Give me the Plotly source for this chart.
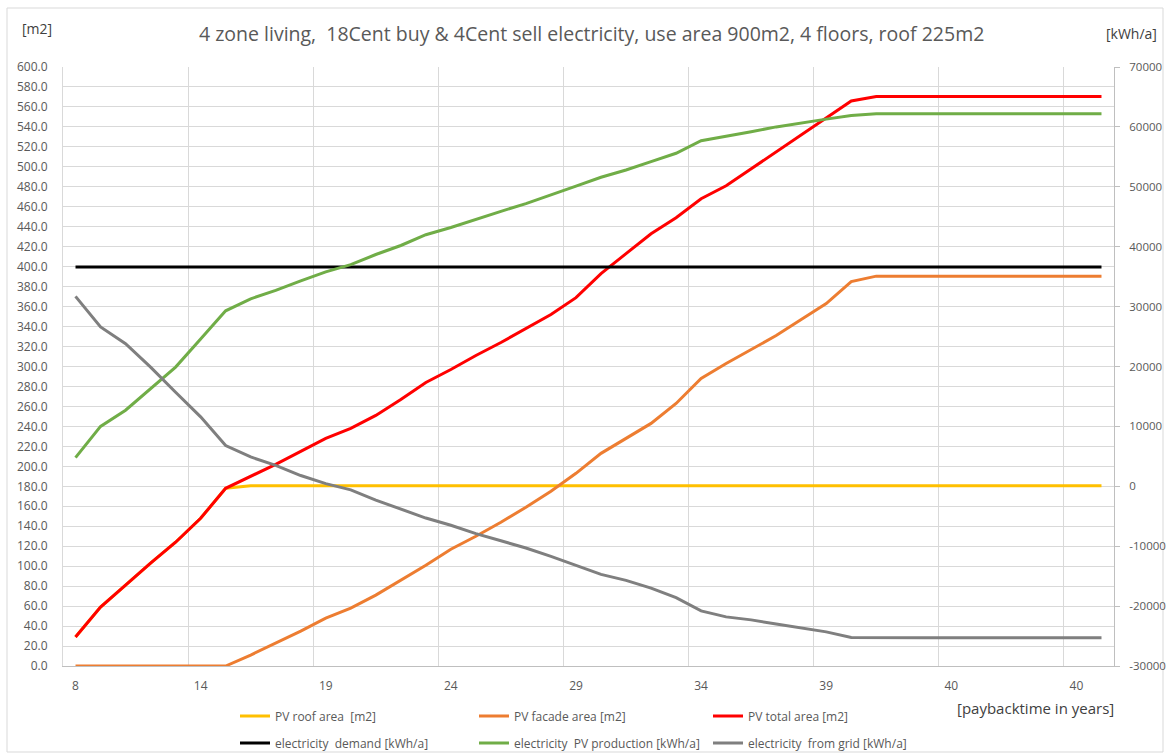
import plotly.graph_objects as go

# ---------------- data ----------------
payback_years = [8, 9, 10, 11, 13, 14, 15, 16, 17, 18, 19, 20, 21, 22, 23, 24, 25, 26, 27, 28,
                 29, 30, 31, 32, 33, 34, 35, 36, 37, 38, 39, 40, 40, 40, 40, 40, 40, 40, 40, 40,
                 40, 40]

pv_roof_area = [29, 59, 81, 103, 124, 148, 178, 180.5, 180.5, 180.5, 180.5, 180.5, 180.5, 180.5,
                180.5, 180.5, 180.5, 180.5, 180.5, 180.5, 180.5, 180.5, 180.5, 180.5, 180.5, 180.5,
                180.5, 180.5, 180.5, 180.5, 180.5, 180.5, 180.5, 180.5, 180.5, 180.5, 180.5, 180.5,
                180.5, 180.5, 180.5, 180.5]

pv_facade_area = [0, 0, 0, 0, 0, 0, 0, 11, 23, 35, 48, 58, 71, 86, 101, 117, 130, 144, 159, 175,
                  193, 213, 228, 243, 263, 288, 303, 317, 331, 347, 363, 385, 390.5, 390.5, 390.5,
                  390.5, 390.5, 390.5, 390.5, 390.5, 390.5, 390.5]

pv_total_area = [29, 59, 81, 103, 124, 148, 178, 190, 202, 215, 228, 238, 251, 267, 284, 297, 311,
                 324, 338, 352, 369, 393, 413, 433, 449, 468, 481, 498, 515, 532, 549, 566, 570.5,
                 570.5, 570.5, 570.5, 570.5, 570.5, 570.5, 570.5, 570.5, 570.5]

electricity_demand = [36600] * 42

electricity_pv_production = [4780, 10000, 12700, 16300, 19900, 24600, 29300, 31300, 32700, 34300,
                             35800, 37000, 38700, 40200, 42000, 43200, 44600, 45900, 47200, 48600,
                             50100, 51600, 52800, 54200, 55600, 57700, 58400, 59200, 60000, 60700,
                             61300, 61900, 62200, 62200, 62200, 62200, 62200, 62200, 62200, 62200,
                             62200, 62200]

electricity_from_grid = [31700, 26600, 23800, 19900, 15700, 11600, 6800, 4900, 3500, 1800, 450,
                         -600, -2300, -3800, -5300, -6500, -7900, -9100, -10300, -11700, -13200,
                         -14700, -15700, -17000, -18600, -20800, -21800, -22300, -23000, -23600,
                         -24300, -25250, -25300, -25300, -25300, -25300, -25300, -25300, -25300,
                         -25300, -25300, -25300]

kwh_axis_ticks = [-30000, -20000, -10000, 0, 10000, 20000, 30000, 40000, 50000, 60000, 70000]

series_names = ["PV roof area  [m2]", "PV facade area [m2]", "PV total area [m2]",
                "electricity  demand [kWh/a]", "electricity  PV production [kWh/a]",
                "electricity  from grid [kWh/a]"]
series_colors = ["#FFC000", "#ED7D31", "#FF0000", "#000000", "#70AD47", "#7F7F7F"]

title_text = "4 zone living,  18Cent buy & 4Cent sell electricity, use area 900m2, 4 floors, roof 225m2"

# ---------------- figure ----------------
W, H = 1171, 756
L, R, T, B = 63, 1114, 67, 666          # plot area in pixels
pw, ph = R - L, B - T

def px(x):
    return (x - L) / pw

def py(y):
    return (B - y) / ph

idx = list(range(len(payback_years)))
font_family = "'Open Sans', Lato, sans-serif"
txt_col = "#595959"

fig = go.Figure()
series = [pv_roof_area, pv_facade_area, pv_total_area,
          electricity_demand, electricity_pv_production, electricity_from_grid]
legend_of = ["legend", "legend2", "legend3", "legend", "legend2", "legend3"]
for k, (vals, name, col) in enumerate(zip(series, series_names, series_colors)):
    fig.add_trace(go.Scatter(
        x=idx, y=vals, name=name, mode="lines",
        line=dict(color=col, width=3),
        yaxis="y" if k < 3 else "y2",
        legend=legend_of[k], legendgroup=f"g{k}",
    ))

grid_col = "#D9D9D9"
tick_pos = idx[::5]
fig.update_layout(
    width=W, height=H,
    margin=dict(l=L, r=W - R, t=T, b=H - B, pad=0, autoexpand=False),
    paper_bgcolor="white", plot_bgcolor="white",
    font=dict(family=font_family, size=12, color=txt_col),
    showlegend=True,
    xaxis=dict(
        range=[-0.5, len(idx) - 0.5],
        tickvals=tick_pos,
        ticktext=[str(payback_years[i]) for i in tick_pos],
        showgrid=False, zeroline=False,
        showline=True, linecolor="#BFBFBF", linewidth=1,
        ticks="", ticklabelstandoff=9, tickfont=dict(size=12, color=txt_col),
        minor=dict(tickvals=[i - 0.5 for i in range(0, len(idx), 5)],
                   showgrid=True, gridcolor=grid_col, gridwidth=1, ticks=""),
    ),
    yaxis=dict(
        range=[0, 600], dtick=20, tick0=0, tickformat=".1f",
        showgrid=True, gridcolor=grid_col, gridwidth=1,
        zeroline=False, showline=True, linecolor=grid_col,
        ticks="", ticklabelstandoff=12, tickfont=dict(size=12, color=txt_col),
    ),
    yaxis2=dict(
        range=[-30000, 70000],
        tickvals=kwh_axis_ticks, ticktext=[str(v) for v in kwh_axis_ticks],
        overlaying="y", side="right", showgrid=False, zeroline=False,
        showline=True, linecolor="#BFBFBF", linewidth=1,
        ticks="outside", ticklen=5, tickcolor="#BFBFBF",
        ticklabelstandoff=7, tickfont=dict(size=11.5, color=txt_col),
    ),
)

leg_common = dict(orientation="v", yanchor="middle", xanchor="left",
                  bgcolor="rgba(0,0,0,0)", tracegroupgap=8,
                  font=dict(family=font_family, size=12, color=txt_col))
y_leg = py(729.5)
fig.update_layout(
    legend=dict(x=px(235), y=y_leg, **leg_common),
    legend2=dict(x=px(474), y=y_leg, **leg_common),
    legend3=dict(x=px(708), y=y_leg, **leg_common),
)

annots = [
    dict(text=title_text, x=px(591), y=py(33), font=dict(size=19.5, color=txt_col)),
    dict(text="[m2]", x=px(37), y=py(28), font=dict(size=14, color="#404040")),
    dict(text="[kWh/a]", x=px(1131), y=py(33), font=dict(size=14, color="#404040")),
    dict(text="[paybacktime in years]", x=px(1035), y=py(708), font=dict(size=15, color="#404040")),
]
for a in annots:
    fig.add_annotation(xref="paper", yref="paper", showarrow=False,
                       xanchor="center", yanchor="middle", **a)

# light chart border
fig.add_shape(type="rect", xref="paper", yref="paper",
              x0=px(7), x1=px(1163), y0=py(752), y1=py(8),
              line=dict(color="#D9D9D9", width=1), fillcolor="rgba(0,0,0,0)", layer="below")

fig.write_html("out.html")
